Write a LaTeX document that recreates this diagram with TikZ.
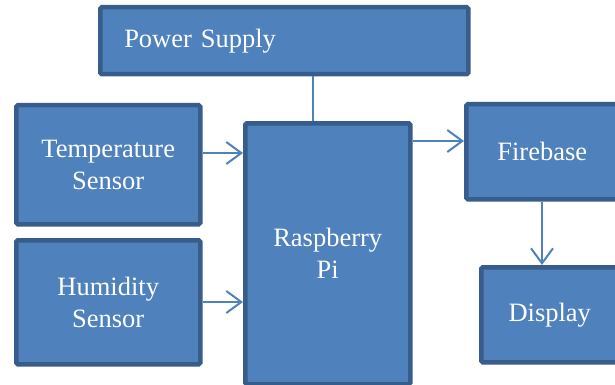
\documentclass[tikz,border=0pt]{standalone}
\usepackage{fontspec}
\setmainfont{Liberation Serif}
\usetikzlibrary{arrows.meta}
\definecolor{boxfill}{HTML}{4F81BD}
\definecolor{boxline}{HTML}{385D8A}
\begin{document}
\begin{tikzpicture}[x=1pt,y=-1pt,
  blk/.style={draw=boxline, line width=4.5pt, fill=boxfill, rounded corners=1.5pt,
    text=white, font=\fontsize{26.5}{32}\selectfont, align=center, inner sep=0pt},
  conn/.style={draw=boxfill, line width=2pt},
  arr/.style={conn, -{Straight Barb[length=15pt,width=22pt,line width=2pt]}}]
\useasboundingbox (0,0) rectangle (615,385);
\node[blk, minimum width=368pt, minimum height=67pt, anchor=north west, text width=320pt, align=left] (ps) at (98,5) {Power Supply};
\node[blk, minimum width=184pt, minimum height=119pt, anchor=north west] (temp) at (14,103) {Temperature\\Sensor};
\node[blk, minimum width=184pt, minimum height=124pt, anchor=north west] (hum) at (14,238) {Humidity\\Sensor};
\node[blk, minimum width=165pt, minimum height=261pt, anchor=north west] (pi) at (243,121) {Raspberry\\Pi};
\node[blk, minimum width=152pt, minimum height=95pt, anchor=north west] (fb) at (464,102) {Firebase};
\node[blk, minimum width=137pt, minimum height=95pt, anchor=north west] (disp) at (479,265) {Display};
\draw[conn] (ps.south -| 313,0) -- (pi.north -| 313,0);
\draw[arr] (temp.east |- 0,153) -- (pi.west |- 0,153);
\draw[arr] (hum.east |- 0,302) -- (pi.west |- 0,302);
\draw[arr] (pi.east |- 0,141) -- (fb.west |- 0,141);
\draw[arr] (fb.south -| 542,0) -- (disp.north -| 542,0);
\end{tikzpicture}
\end{document}
